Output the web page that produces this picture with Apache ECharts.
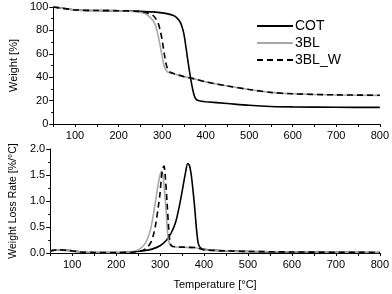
<!DOCTYPE html>
<html><head><meta charset="utf-8">
<script src="https://cdn.jsdelivr.net/npm/echarts@6/dist/echarts.min.js"></script>
<style>html,body{margin:0;padding:0;background:#fff}#c{width:392px;height:294px}</style>
</head><body><div id="c"></div>
<script>
const seriesNames = ['COT', '3BL', '3BL_W'];
const xTickLabels = [100, 200, 300, 400, 500, 600, 700, 800];

// Weight [%] vs temperature
const cotT_w  = [50,70,100,150,200,250,280,300,320,330,340,345,350,355,360,365,370,375,380,390,400,450,500,550,600,700,800];
const cotW    = [100,99,97.5,97,96.8,96.3,95.8,95,93.5,92,88,84,77,65,52,40,30,23,20.5,19.5,19,17.5,16,15,14.6,14.3,14.2];
const blT_w   = [50,70,100,150,200,240,260,270,280,285,290,295,300,305,310,315,330,350,375,400,450,500,550,600,700,800];
const blW     = [100,99,97.5,97,96.8,96,94.5,92,88,84,77,68,58,49,45.5,44,42.5,40.5,38.5,36,32.5,29.5,27,25.8,24.8,24.5];
const blwT_w  = [50,70,100,150,200,250,270,280,290,295,300,305,310,315,320,330,350,375,400,450,500,550,600,700,800];
const blwW    = [100,99,97.5,97,96.8,96.2,94.5,92.5,87,81,72,60,50,45.5,44,42.7,40.5,38.5,36,32.5,29.5,27,25.8,24.9,24.6];

// Weight loss rate [%/°C] vs temperature
const cotT_r  = [50,70,90,120,150,200,230,260,280,300,315,325,335,345,352,358,363,367,371,375,379,383,387,392,400,450,500,600,800];
const cotR    = [0.04,0.06,0.05,0.02,0.01,0.01,0.02,0.04,0.07,0.14,0.25,0.38,0.58,0.95,1.27,1.55,1.72,1.68,1.5,1.2,0.85,0.45,0.18,0.1,0.07,0.04,0.03,0.015,0.01];
const blT_r   = [50,70,90,120,150,200,230,250,263,270,278,284,289,296,300,303,306,309,312,315,318,322,328,350,380,400,450,500,600,800];
const blR     = [0.04,0.06,0.05,0.02,0.01,0.01,0.02,0.06,0.15,0.25,0.44,0.7,0.96,1.34,1.5,1.57,1.52,1.3,1.0,0.65,0.31,0.16,0.12,0.11,0.1,0.06,0.04,0.03,0.02,0.01];
const blwT_r  = [50,70,90,120,150,200,240,260,270,280,285,290,296,300,303,306,309,312,316,319,322,326,335,360,385,400,450,500,600,800];
const blwR    = [0.04,0.06,0.05,0.02,0.01,0.01,0.02,0.05,0.1,0.22,0.35,0.55,0.89,1.15,1.45,1.62,1.67,1.45,0.96,0.55,0.25,0.14,0.12,0.11,0.1,0.06,0.04,0.03,0.02,0.01];

const zip = (a, b) => a.map((v, i) => [v, b[i]]);
const font = 'Liberation Sans, Arial, sans-serif';
const styles = [
  {color: '#000', width: 1.6, type: 'solid'},
  {color: '#a8a8a8', width: 1.6, type: 'solid'},
  {color: '#000', width: 1.6, type: [6, 4]}
];

function xAx(gi, showName) {
  return {
    type: 'value', gridIndex: gi, min: 50, max: 800, interval: 50,
    axisLine: {show: true, lineStyle: {color: '#000', width: 1}},
    axisTick: {show: true, length: 3, lineStyle: {color: '#000'}},
    axisLabel: {color: '#000', fontFamily: font, fontSize: 11, margin: 6,
      formatter: v => (xTickLabels.indexOf(v) >= 0 ? String(v) : '')},
    splitLine: {show: false},
    name: showName ? 'Temperature [°C]' : '', nameLocation: 'middle', nameGap: 26,
    nameTextStyle: {color: '#000', fontFamily: font, fontSize: 11}
  };
}
function yAx(gi, min, max, interval, name, fmt, nsize) {
  return {
    type: 'value', gridIndex: gi, min: min, max: max, interval: interval,
    axisLine: {show: true, lineStyle: {color: '#000', width: 1}},
    axisTick: {show: true, length: 4, lineStyle: {color: '#000'}},
    minorTick: {show: true, splitNumber: 2, length: 2, lineStyle: {color: '#000'}},
    axisLabel: {color: '#000', fontFamily: font, fontSize: 11, margin: 5, formatter: fmt},
    splitLine: {show: false},
    name: name, nameLocation: 'middle', nameGap: 29,
    nameTextStyle: {color: '#000', fontFamily: font, fontSize: nsize}
  };
}

const weightData = [zip(cotT_w, cotW), zip(blT_w, blW), zip(blwT_w, blwW)];
const rateData = [zip(cotT_r, cotR), zip(blT_r, blR), zip(blwT_r, blwR)];

const series = [];
seriesNames.forEach((n, i) => {
  series.push({name: n, type: 'line', xAxisIndex: 0, yAxisIndex: 0, data: weightData[i],
    showSymbol: false, symbol: 'none', smooth: 0.3, lineStyle: styles[i], z: 2 + i});
});
seriesNames.forEach((n, i) => {
  series.push({name: n, type: 'line', xAxisIndex: 1, yAxisIndex: 1, data: rateData[i],
    showSymbol: false, symbol: 'none', smooth: 0.3, lineStyle: styles[i], z: 2 + i});
});

const chart = echarts.init(document.getElementById('c'), null, {renderer: 'canvas'});
chart.setOption({
  animation: false,
  backgroundColor: '#fff',
  grid: [
    {left: 45, right: 11, top: 7, height: 117},
    {left: 45, right: 11, top: 149, height: 104}
  ],
  legend: {
    orient: 'vertical', left: 251, top: 14, itemWidth: 36, itemHeight: 2, itemGap: 3,
    data: seriesNames,
    itemStyle: {color: 'transparent', borderWidth: 0},
    textStyle: {color: '#000', fontFamily: font, fontSize: 14, padding: [0, 0, 0, -3]}
  },
  xAxis: [xAx(0, false), xAx(1, true)],
  yAxis: [
    yAx(0, 0, 100, 20, 'Weight [%]', v => String(v), 11),
    yAx(1, 0, 2, 0.5, 'Weight Loss Rate [%/°C]', v => v.toFixed(1), 10.5)
  ],
  series: series
});
</script></body></html>
